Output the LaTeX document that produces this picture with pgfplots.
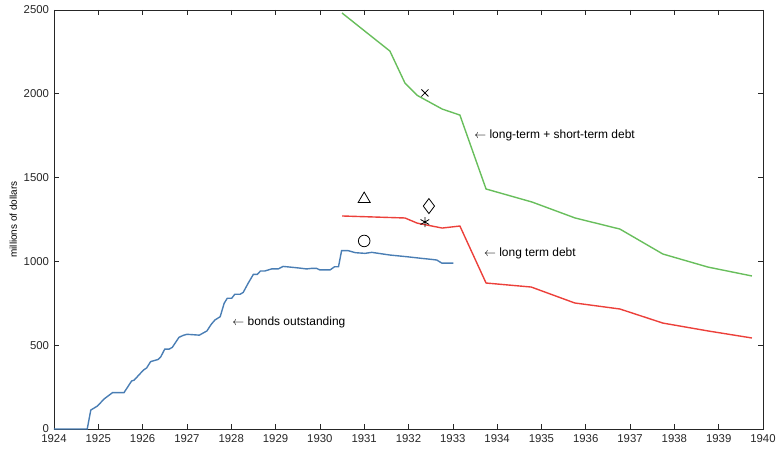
\documentclass[border=0pt]{standalone}
\usepackage{pgfplots}
\pgfplotsset{compat=1.18}
\usepackage{fontspec}
\setmainfont{Liberation Sans}
\definecolor{cblue}{RGB}{74,126,180}
\definecolor{cred}{RGB}{236,64,58}
\definecolor{cgreen}{RGB}{104,190,92}
\definecolor{axgray}{RGB}{38,38,38}
\begin{document}
\begin{tikzpicture}
\begin{axis}[
  scale only axis,
  width=709bp, height=419bp,
  xmin=1924, xmax=1940, ymin=0, ymax=2500,
  xtick={1924,1925,...,1940},
  ytick={0,500,...,2500},
  tick align=inside,
  major tick length=5bp,
  axis line style={axgray, line width=0.6pt},
  tick style={axgray, line width=0.6pt},
  tick label style={font=\fontsize{11.4}{13}\selectfont, text=axgray},
  xticklabel style={yshift=-2.5bp},
  yticklabel style={xshift=-1.5bp},
  /pgf/number format/1000 sep={},
  /pgf/number format/assume math mode=true,
  ylabel={millions of dollars},
  ylabel style={font=\fontsize{11.5}{13}\selectfont, text=axgray},
  every axis y label/.style={at={(ticklabel cs:0.5)}, rotate=90, anchor=near ticklabel},
  clip=false,
]
% bonds outstanding
\addplot[cblue, line width=1.4pt] coordinates {
(1924.00,0) (1924.75,0) (1924.83,113) (1924.98,137) (1925.13,179) (1925.32,217)
(1925.58,217) (1925.75,286) (1925.81,292) (1926.02,352) (1926.09,364) (1926.18,402)
(1926.35,415) (1926.41,431) (1926.50,477) (1926.60,477) (1926.67,487) (1926.82,547)
(1926.92,559) (1927.00,565) (1927.28,560) (1927.45,585) (1927.55,625) (1927.63,650)
(1927.75,670) (1927.84,750) (1927.91,780) (1928.01,780) (1928.08,804) (1928.20,804)
(1928.27,815) (1928.38,869) (1928.50,923) (1928.59,923) (1928.66,943) (1928.76,943)
(1928.91,955) (1929.06,955) (1929.17,970) (1929.33,966) (1929.55,960) (1929.70,955)
(1929.80,958) (1929.93,958) (1930.00,949) (1930.23,949) (1930.33,968) (1930.42,968)
(1930.49,1064) (1930.64,1064) (1930.80,1052) (1931.02,1048) (1931.17,1054) (1931.40,1045)
(1931.58,1038) (1931.96,1028) (1932.30,1018) (1932.52,1012) (1932.64,1008) (1932.75,990)
(1933.01,990)
};
% long term debt
\addplot[cred, line width=1.4pt] coordinates {
(1930.50,1271) (1931.92,1259) (1932.20,1228) (1932.76,1199) (1933.16,1211)
(1933.75,871) (1934.77,847) (1935.75,752) (1936.77,716) (1937.74,632)
(1938.76,585) (1939.75,543)
};
% long-term + short-term debt
\addplot[cgreen, line width=1.4pt] coordinates {
(1930.50,2482) (1931.58,2255) (1931.92,2064) (1932.20,1990) (1932.76,1909)
(1933.16,1873) (1933.75,1432) (1934.79,1354) (1935.76,1259) (1936.77,1193)
(1937.74,1044) (1938.76,966) (1939.75,913)
};
% markers
\addplot[black, only marks, mark=triangle, mark size=7bp, mark options={line width=0.8pt}] coordinates {(1931.00,1372)};
\addplot[black, only marks, mark=o, mark size=5.8bp, mark options={line width=0.8pt}] coordinates {(1931.00,1122)};
\addplot[black, only marks, mark=diamond, mark size=7.5bp, mark options={line width=0.8pt}] coordinates {(1932.46,1330)};
\addplot[black, only marks, mark=asterisk, mark size=5bp, mark options={line width=0.8pt}] coordinates {(1932.37,1235)};
\addplot[black, only marks, mark=x, mark size=5bp, mark options={line width=0.8pt}] coordinates {(1932.37,2005)};
% annotations
\node[anchor=west, font=\fontsize{12}{14}\selectfont, inner sep=0pt] at (axis cs:1928.02,638) {$\leftarrow$ bonds outstanding};
\node[anchor=west, font=\fontsize{12}{14}\selectfont, inner sep=0pt] at (axis cs:1933.70,1050) {$\leftarrow$ long term debt};
\node[anchor=west, font=\fontsize{12}{14}\selectfont, inner sep=0pt] at (axis cs:1933.48,1754) {$\leftarrow$ long-term + short-term debt};
\end{axis}
\pgfresetboundingbox
\path (current axis.south west) ++(-54bp,-21bp) coordinate (bbA);
\path (current axis.north east) ++(14bp,10bp) coordinate (bbB);
\useasboundingbox (bbA) rectangle (bbB);
\end{tikzpicture}
\end{document}
